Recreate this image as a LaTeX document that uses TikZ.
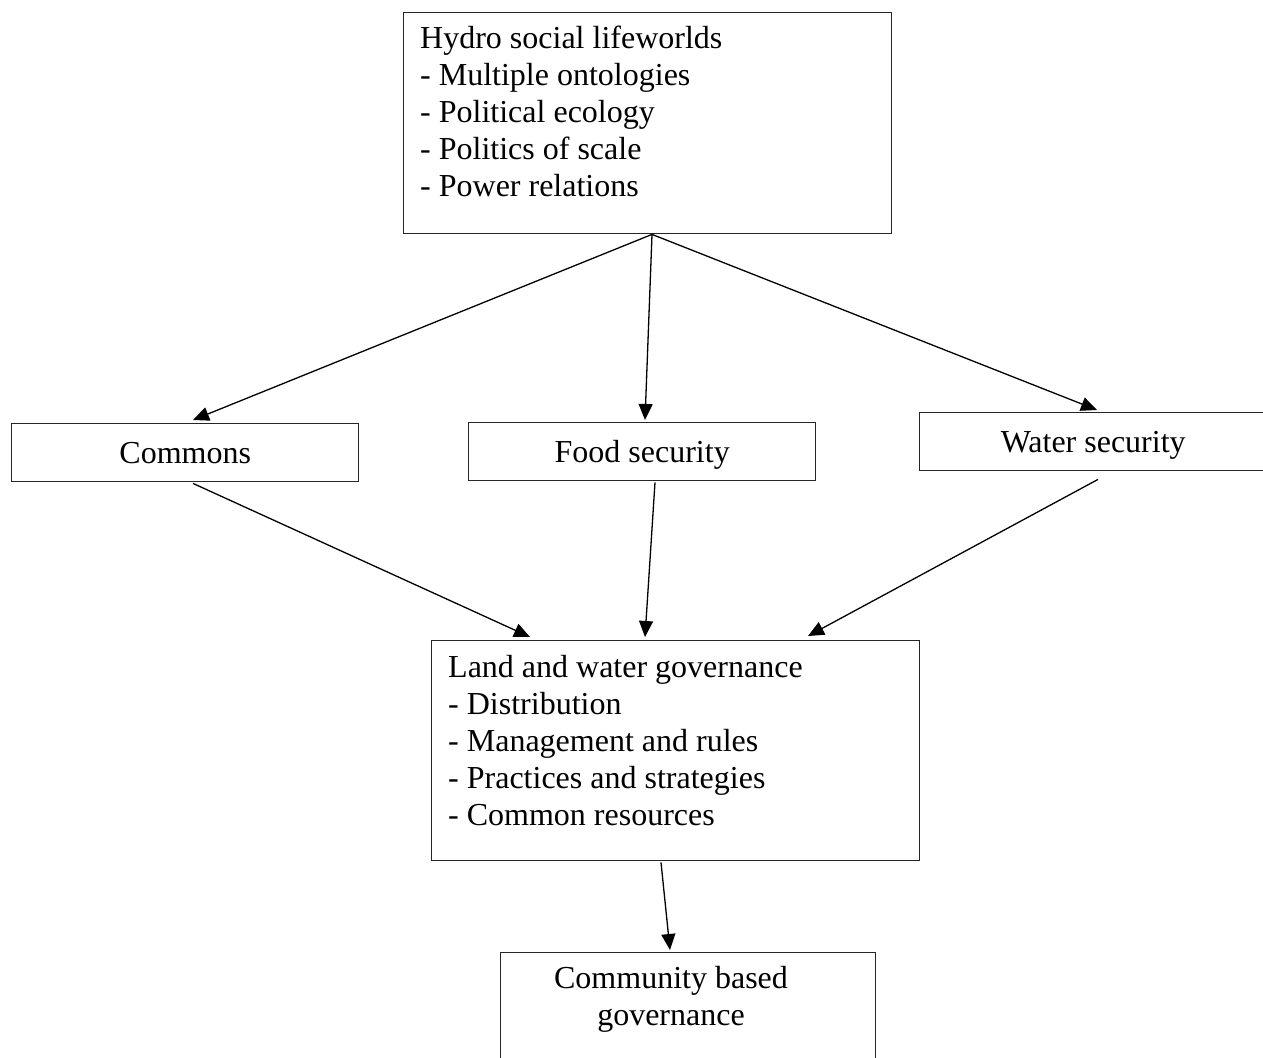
\documentclass[tikz,border=0pt]{standalone}
\usepackage{fontspec}
\setmainfont{Liberation Serif}
\usetikzlibrary{arrows.meta}
\begin{document}
\begin{tikzpicture}[x=1pt,y=-1pt,
  box/.style={draw=black!85, line width=1.4pt, rectangle, inner sep=0pt, anchor=north west},
  lbl/.style={font=\fontsize{32}{37}\selectfont, inner sep=0pt},
  single/.style={box, lbl, minimum width=347pt, minimum height=58pt, text height=22pt, text depth=0pt},
  arr/.style={line width=1.3pt, -{Triangle[length=16pt,width=14pt]}}]
\clip (0,0) rectangle (1263,1057);
\fill[white] (0,0) rectangle (1263,1057);
% boxes
\node[box, minimum width=488pt, minimum height=221pt] (hydro) at (403,12) {};
\node[lbl, align=left, anchor=north west] (hydrotext) at (420,26)
  {Hydro social lifeworlds\\- Multiple ontologies\\- Political ecology\\- Politics of scale\\- Power relations};
\node[single] (commons) at (11,423) {Commons};
\node[single] (food) at (468,422) {Food security};
\node[single] (water) at (919,412) {Water security};
\node[box, minimum width=488pt, minimum height=220pt] (land) at (431,640) {};
\node[lbl, align=left, anchor=north west] (landtext) at (448,655)
  {Land and water governance\\- Distribution\\- Management and rules\\- Practices and strategies\\- Common resources};
\node[box, minimum width=375pt, minimum height=160pt] (community) at (500,952) {};
\node[lbl, align=center, anchor=north] (communitytext) at (671,966)
  {Community based\\governance};
% connectors
\draw[arr] ([xshift=249pt]hydro.south west) -- ([xshift=182pt,yshift=3pt]commons.north west);
\draw[arr] ([xshift=249pt]hydro.south west) -- ([xshift=177pt,yshift=2pt]food.north west);
\draw[arr] ([xshift=249pt]hydro.south west) -- ([xshift=178pt,yshift=2pt]water.north west);
\draw[arr] ([xshift=182pt,yshift=-1pt]commons.south west) -- ([xshift=99pt,yshift=3pt]land.north west);
\draw[arr] ([xshift=187pt,yshift=-1pt]food.south west) -- ([xshift=214pt,yshift=3pt]land.north west);
\draw[arr] ([xshift=179pt,yshift=-8pt]water.south west) -- ([xshift=377pt,yshift=4pt]land.north west);
\draw[arr] ([xshift=230pt,yshift=-1pt]land.south west) -- ([xshift=170pt,yshift=2pt]community.north west);
\end{tikzpicture}
\end{document}
